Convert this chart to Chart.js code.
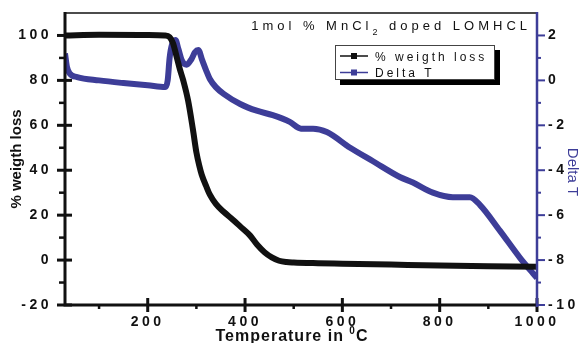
<!DOCTYPE html>
<html>
<head>
<meta charset="utf-8">
<title>TGA / DTA</title>
<script src="https://cdn.jsdelivr.net/npm/chart.js@4.4.0/dist/chart.umd.min.js"></script>
<style>
  html, body { margin: 0; padding: 0; background: #fff; }
</style>
</head>
<body>
<canvas id="tga" width="580" height="343"></canvas>
<script>
// TGA curve (% weight loss vs temperature)
const wlTemp  = [30, 100, 200, 235, 245, 252, 260, 266, 273, 283, 293, 300, 306, 311, 320, 328, 340, 356, 375, 390, 410, 425, 440, 455, 470, 485, 500, 550, 600, 700, 800, 900, 1000];
const wlValue = [100, 100.3, 100.2, 100, 99.3, 96.5, 90, 85, 80, 71, 58, 48, 42, 38, 33, 29, 25, 21.5, 18, 15, 11, 6.8, 3.5, 1.2, -0.3, -0.9, -1.1, -1.4, -1.6, -2, -2.4, -2.7, -3];

// DTA curve (Delta T vs temperature)
const dtTemp  = [30, 34, 40, 55, 100, 150, 200, 236, 241, 245, 250, 257, 263, 270, 280, 290, 297, 304, 312, 320, 328, 340, 356, 390, 424, 457, 492, 515, 540, 568, 616, 663, 718, 745, 786, 827, 862, 883, 924, 965, 992, 1000];
const dtValue = [1.2, 0.6, 0.3, 0.15, 0.0, -0.12, -0.22, -0.3, 0, 1.0, 1.6, 1.8, 1.4, 0.9, 0.7, 0.95, 1.25, 1.35, 0.9, 0.45, 0.05, -0.3, -0.6, -1.05, -1.35, -1.55, -1.85, -2.15, -2.15, -2.3, -3.0, -3.6, -4.3, -4.55, -5.0, -5.2, -5.2, -5.55, -6.7, -7.9, -8.6, -8.8];

const seriesNames = ['% weigth loss', 'Delta T'];

const xTicks = [200, 400, 600, 800, 1000];
const xMinor = [100, 300, 500, 700, 900];
const yLeftTicks = [-20, 0, 20, 40, 60, 80, 100];
const yLeftMinor = [-10, 10, 30, 50, 70, 90];
const yRightTicks = [-10, -8, -6, -4, -2, 0, 2];
const yRightMinor = [-9, -7, -5, -3, -1, 1];

const BLACK = '#111111';
const BLUE = '#3d3d98';
const FONT = "Arial, 'Liberation Sans', sans-serif";

const toPoints = (xs, ys) => xs.map((x, i) => ({ x: x, y: ys[i] }));
const setTicks = list => scale => { scale.ticks = list.map(v => ({ value: v })); };

// fixed axis boxes so the plot area stays put
const fixBox = (w, h) => scale => {
    if (w !== null) scale.width = w;
    if (h !== null) scale.height = h;
    scale.paddingTop = 0;
    scale.paddingBottom = 0;
    scale.paddingLeft = 0;
    scale.paddingRight = 0;
};

// draws a run of text pieces (for sub/superscripts) side by side
function drawParts(ctx, parts, x, y, align) {
    let total = 0;
    parts.forEach(p => {
        ctx.font = p.font;
        p.w = ctx.measureText(p.text).width;
        total += p.w;
    });
    let cx = align === 'right' ? x - total : align === 'center' ? x - total / 2 : x;
    ctx.textAlign = 'left';
    parts.forEach(p => {
        ctx.font = p.font;
        ctx.fillText(p.text, cx, y + (p.dy || 0));
        cx += p.w;
    });
}

const spacing = {
    id: 'spacing',
    beforeDraw(chart) {
        chart.ctx.letterSpacing = '3.5px';
    }
};

const decor = {
    id: 'decor',
    afterDraw(chart) {
        const ctx = chart.ctx;
        const a = chart.chartArea;
        const x = chart.scales.x, yl = chart.scales.y, yr = chart.scales.y2;

        ctx.save();
        ctx.lineCap = 'butt';

        // frame
        ctx.strokeStyle = BLACK;
        ctx.lineWidth = 1.5;
        ctx.beginPath();
        ctx.moveTo(a.left, a.top); ctx.lineTo(a.right, a.top);
        ctx.stroke();

        ctx.lineWidth = 3;
        ctx.beginPath();
        ctx.moveTo(a.left, a.top - 1); ctx.lineTo(a.left, a.bottom + 1.5);
        ctx.moveTo(a.left - 1.5, a.bottom); ctx.lineTo(a.right, a.bottom);
        ctx.stroke();

        // left axis ticks
        yLeftTicks.forEach(v => {
            const py = yl.getPixelForValue(v);
            ctx.beginPath(); ctx.moveTo(a.left - 8, py); ctx.lineTo(a.left + 7, py); ctx.stroke();
        });
        ctx.lineWidth = 2.5;
        yLeftMinor.forEach(v => {
            const py = yl.getPixelForValue(v);
            ctx.beginPath(); ctx.moveTo(a.left - 6, py); ctx.lineTo(a.left, py); ctx.stroke();
        });

        // bottom axis ticks
        ctx.lineWidth = 3;
        xTicks.forEach(v => {
            const px = x.getPixelForValue(v);
            ctx.beginPath(); ctx.moveTo(px, a.bottom - 7); ctx.lineTo(px, a.bottom + 7); ctx.stroke();
        });
        ctx.lineWidth = 2.5;
        xMinor.forEach(v => {
            const px = x.getPixelForValue(v);
            ctx.beginPath(); ctx.moveTo(px, a.bottom); ctx.lineTo(px, a.bottom + 4); ctx.stroke();
        });

        // right axis in blue
        ctx.strokeStyle = BLUE;
        ctx.lineWidth = 2.5;
        ctx.beginPath(); ctx.moveTo(a.right, a.top - 1); ctx.lineTo(a.right, a.bottom + 2); ctx.stroke();
        ctx.lineWidth = 2;
        yRightTicks.forEach(v => {
            const py = yr.getPixelForValue(v);
            ctx.beginPath(); ctx.moveTo(a.right, py); ctx.lineTo(a.right + 8, py); ctx.stroke();
        });
        yRightMinor.forEach(v => {
            const py = yr.getPixelForValue(v);
            ctx.beginPath(); ctx.moveTo(a.right, py); ctx.lineTo(a.right + 4, py); ctx.stroke();
        });

        // axis titles
        ctx.fillStyle = BLACK;
        ctx.letterSpacing = '1px';
        drawParts(ctx, [
            { text: 'Temperature in ', font: 'bold 16px ' + FONT },
            { text: '0', font: 'bold 10px ' + FONT, dy: -7 },
            { text: 'C', font: 'bold 16px ' + FONT }
        ], 292, 341, 'center');

        ctx.letterSpacing = '0px';
        ctx.save();
        ctx.translate(17, (a.top + a.bottom) / 2);
        ctx.rotate(-Math.PI / 2);
        ctx.font = 'bold 15px ' + FONT;
        ctx.textAlign = 'center';
        ctx.textBaseline = 'middle';
        ctx.fillText('% weigth loss', 0, 0);
        ctx.restore();

        ctx.save();
        ctx.translate(572, 172);
        ctx.rotate(Math.PI / 2);
        ctx.font = '15px ' + FONT;
        ctx.fillStyle = BLUE;
        ctx.textAlign = 'center';
        ctx.textBaseline = 'middle';
        ctx.fillText('Delta T', 0, 0);
        ctx.restore();

        // sample label
        ctx.letterSpacing = '4px';
        ctx.fillStyle = BLACK;
        drawParts(ctx, [
            { text: '1mol % MnCl', font: '13px ' + FONT },
            { text: '2', font: '9px ' + FONT, dy: 5 },
            { text: ' doped LOMHCL', font: '13px ' + FONT }
        ], 531, 29.5, 'right');

        // legend with drop shadow
        const lx = 335, ly = 45, lw = 160, lh = 35;
        ctx.fillStyle = '#000';
        ctx.fillRect(lx + 5, ly + 5, lw, lh);
        ctx.fillStyle = '#fff';
        ctx.fillRect(lx, ly, lw, lh);
        ctx.strokeStyle = '#444';
        ctx.lineWidth = 1;
        ctx.strokeRect(lx + 0.5, ly + 0.5, lw - 1, lh - 1);

        ctx.letterSpacing = '3px';
        ctx.font = '12px ' + FONT;
        ctx.textBaseline = 'alphabetic';
        chart.data.datasets.forEach((ds, i) => {
            const ry = 56 + i * 16.5;
            ctx.strokeStyle = ds.borderColor;
            ctx.lineWidth = 1.5;
            ctx.beginPath(); ctx.moveTo(lx + 5, ry); ctx.lineTo(lx + 33, ry); ctx.stroke();
            ctx.fillStyle = ds.borderColor;
            ctx.fillRect(lx + 16, ry - 3, 6, 6);
            ctx.fillStyle = BLACK;
            ctx.textAlign = 'left';
            ctx.fillText(ds.label, lx + 40, ry + 4.5);
        });

        ctx.restore();
    }
};

const tickFont = { family: FONT, size: 14, weight: 'bold' };

new Chart(document.getElementById('tga'), {
    type: 'line',
    data: {
        datasets: [{
            label: seriesNames[0],
            data: toPoints(wlTemp, wlValue),
            yAxisID: 'y',
            borderColor: BLACK,
            borderWidth: 6,
            pointRadius: 0,
            cubicInterpolationMode: 'monotone',
            fill: false
        }, {
            label: seriesNames[1],
            data: toPoints(dtTemp, dtValue),
            yAxisID: 'y2',
            borderColor: BLUE,
            borderWidth: 6,
            pointRadius: 0,
            cubicInterpolationMode: 'monotone',
            fill: false
        }]
    },
    options: {
        responsive: false,
        animation: false,
        layout: { autoPadding: false, padding: { top: 13, left: 0, right: 0, bottom: 0 } },
        plugins: {
            legend: { display: false },
            tooltip: { enabled: false }
        },
        scales: {
            x: {
                type: 'linear',
                min: 30,
                max: 1000,
                afterBuildTicks: setTicks(xTicks),
                afterFit: fixBox(null, 38),
                grid: { display: false, drawTicks: false },
                border: { display: false },
                ticks: {
                    color: BLACK,
                    font: tickFont,
                    padding: 9,
                    maxRotation: 0,
                    autoSkip: false,
                    callback: v => String(v)
                }
            },
            y: {
                position: 'left',
                min: -20,
                max: 110,
                afterBuildTicks: setTicks(yLeftTicks),
                afterFit: fixBox(65, null),
                grid: { display: false, drawTicks: false },
                border: { display: false },
                ticks: {
                    color: BLACK,
                    font: tickFont,
                    padding: 13,
                    autoSkip: false,
                    callback: v => String(v)
                }
            },
            y2: {
                position: 'right',
                min: -10,
                max: 3,
                afterBuildTicks: setTicks(yRightTicks),
                afterFit: fixBox(43, null),
                grid: { display: false, drawTicks: false },
                border: { display: false },
                ticks: {
                    color: BLACK,
                    font: tickFont,
                    padding: 11,
                    autoSkip: false,
                    callback: v => String(v)
                }
            }
        }
    },
    plugins: [spacing, decor]
});
</script>
</body>
</html>
